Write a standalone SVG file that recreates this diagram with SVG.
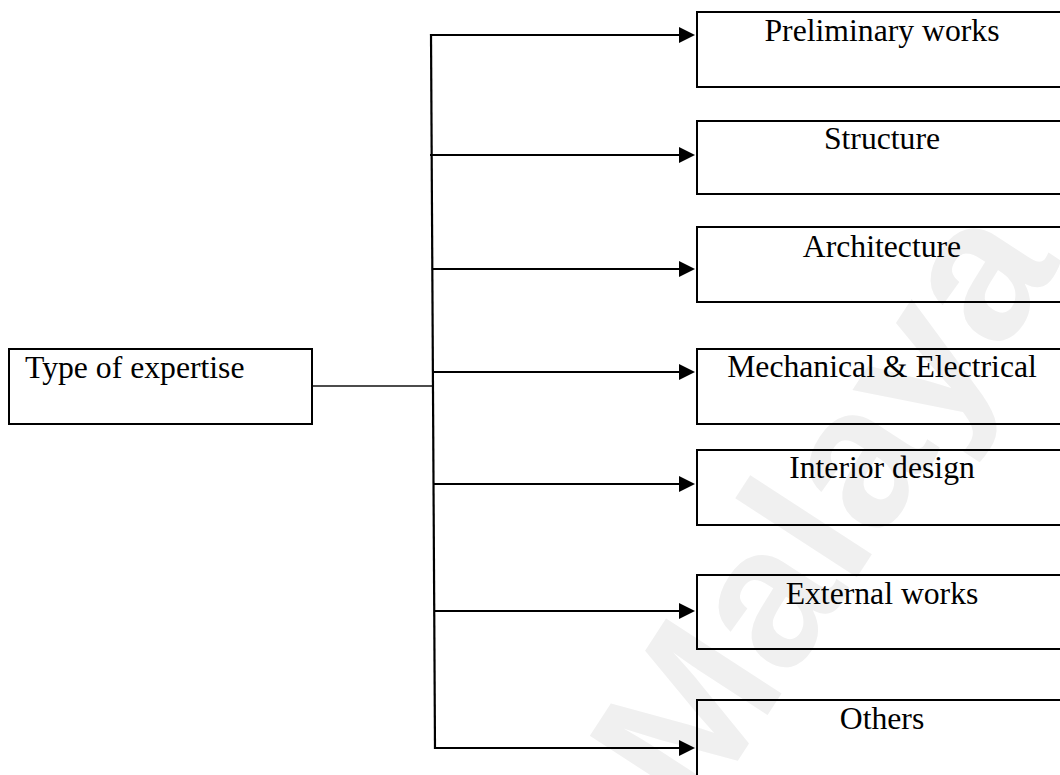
<svg xmlns="http://www.w3.org/2000/svg" width="1060" height="775" viewBox="0 0 1060 775">
  <style>
    .box { fill: none; stroke: #000; stroke-width: 2; }
    .label { font-family: "Liberation Serif", "Times New Roman", serif; font-size: 31.7px; fill: #000; }
    .mid { text-anchor: middle; }
    .link { stroke: #000; stroke-width: 2.2; fill: none; }
    .feed { stroke: #111; stroke-width: 1.5; fill: none; }
    .mark { font-family: "Liberation Sans", Arial, sans-serif; font-weight: bold; font-size: 200px; fill: #f0f0f0; }
  </style>
  <defs>
    <marker id="head" markerUnits="userSpaceOnUse" markerWidth="17" markerHeight="17" refX="2" refY="8" orient="auto">
      <path d="M0,0 L16,8 L0,16 Z" fill="#000"/>
    </marker>
  </defs>

  <rect width="1060" height="775" fill="#fff"/>

  <!-- faint background watermark -->
  <text class="mark" transform="translate(698,822) rotate(-57)">Malaya</text>

  <g id="connectors">
    <line class="feed" x1="312" y1="386" x2="434" y2="386"/>
    <line class="link" x1="431" y1="34" x2="435" y2="749"/>
    <line class="link" x1="431" y1="35" x2="681" y2="35" marker-end="url(#head)"/>
    <line class="link" x1="430" y1="155" x2="681" y2="155" marker-end="url(#head)"/>
    <line class="link" x1="432" y1="269" x2="681" y2="269" marker-end="url(#head)"/>
    <line class="link" x1="433" y1="372" x2="681" y2="372" marker-end="url(#head)"/>
    <line class="link" x1="434" y1="484" x2="681" y2="484" marker-end="url(#head)"/>
    <line class="link" x1="434" y1="611" x2="681" y2="611" marker-end="url(#head)"/>
    <line class="link" x1="434" y1="748" x2="681" y2="748" marker-end="url(#head)"/>
  </g>

  <g id="type-of-expertise">
    <rect class="box" x="9" y="349" width="303" height="75"/>
    <text class="label" x="25" y="378">Type of expertise</text>
  </g>

  <g id="preliminary-works">
    <rect class="box" x="697" y="12" width="370" height="75"/>
    <text class="label mid" x="882" y="41">Preliminary works</text>
  </g>

  <g id="structure">
    <rect class="box" x="697" y="121" width="370" height="73"/>
    <text class="label mid" x="882" y="149">Structure</text>
  </g>

  <g id="architecture">
    <rect class="box" x="697" y="227" width="370" height="75"/>
    <text class="label mid" x="882" y="257">Architecture</text>
  </g>

  <g id="mechanical-electrical">
    <rect class="box" x="697" y="349" width="370" height="75"/>
    <text class="label mid" x="882" y="377">Mechanical &amp; Electrical</text>
  </g>

  <g id="interior-design">
    <rect class="box" x="697" y="450" width="370" height="75"/>
    <text class="label mid" x="882" y="478">Interior design</text>
  </g>

  <g id="external-works">
    <rect class="box" x="697" y="575" width="370" height="74"/>
    <text class="label mid" x="882" y="604">External works</text>
  </g>

  <g id="others">
    <rect class="box" x="697" y="700" width="370" height="90"/>
    <text class="label mid" x="882" y="729">Others</text>
  </g>
</svg>
